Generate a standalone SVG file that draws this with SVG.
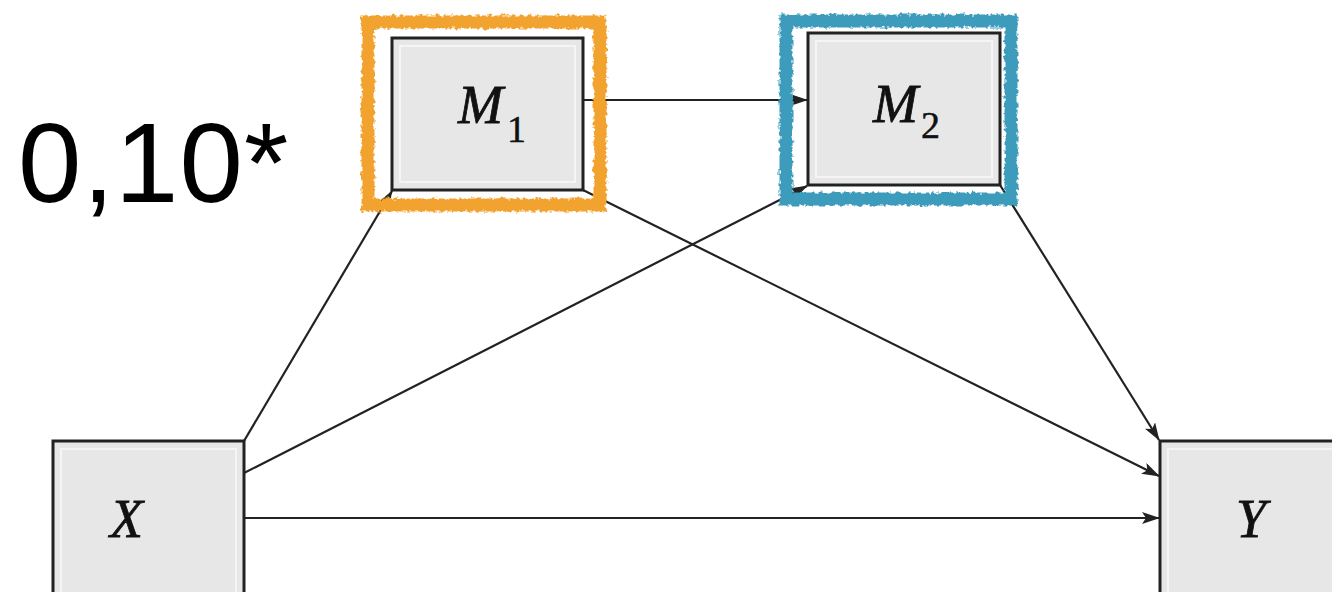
<svg xmlns="http://www.w3.org/2000/svg" width="1332" height="592" viewBox="0 0 1332 592">
<style>
.box{fill:#e7e7e7;stroke:#222;stroke-width:3}
.inner{fill:none;stroke:#f5f5f5;stroke-width:2}
.lbl{font-family:"Liberation Serif","DejaVu Serif",serif;font-style:italic;font-size:54px;fill:#111;stroke:#111;stroke-width:0.8}
.sub{font-family:"Liberation Serif","DejaVu Serif",serif;font-size:38px;fill:#111;stroke:#111;stroke-width:0.5}
.edge{stroke:#222;stroke-width:2.2;fill:none;marker-end:url(#arr)}
.hl{fill:none;stroke-width:13;filter:url(#rough)}
</style>
<defs>
<marker id="arr" viewBox="0 0 18 12" refX="17" refY="6" markerWidth="18" markerHeight="12" markerUnits="userSpaceOnUse" orient="auto">
<path d="M0,0 L18,6 L0,12 L4,6 Z" fill="#222"/>
</marker>
<filter id="rough" x="-5%" y="-5%" width="110%" height="110%">
<feTurbulence type="fractalNoise" baseFrequency="0.25" numOctaves="2" seed="3" result="n"/>
<feDisplacementMap in="SourceGraphic" in2="n" scale="6" xChannelSelector="R" yChannelSelector="G"/>
</filter>
</defs>
<rect width="1332" height="592" fill="#ffffff"/>
<g id="connectors">
<line class="edge" x1="583" y1="100" x2="807" y2="100"/>
<line class="edge" x1="244" y1="441" x2="392" y2="191"/>
<line class="edge" x1="244" y1="473" x2="807" y2="186"/>
<line class="edge" x1="244" y1="518" x2="1159" y2="518"/>
<line class="edge" x1="583" y1="190" x2="1159" y2="476"/>
<line class="edge" x1="1000" y1="185" x2="1159" y2="440"/>
</g>
<g id="node-M1">
<rect class="box" x="392" y="38" width="191" height="152"/>
<rect class="inner" x="400" y="46" width="175" height="136"/>
<text class="lbl" x="458" y="123">M</text><text class="sub" x="507" y="142">1</text>
</g>
<g id="node-M2">
<rect class="box" x="808" y="33" width="192" height="152"/>
<rect class="inner" x="816" y="41" width="176" height="136"/>
<text class="lbl" x="873" y="122">M</text><text class="sub" x="921" y="138">2</text>
</g>
<g id="node-X">
<rect class="box" x="53" y="441" width="191" height="160"/>
<rect class="inner" x="61" y="449" width="175" height="150"/>
<text class="lbl" x="110" y="537">X</text>
</g>
<g id="node-Y">
<rect class="box" x="1160" y="441" width="190" height="160"/>
<rect class="inner" x="1168" y="449" width="175" height="150"/>
<text class="lbl" x="1236" y="537">Y</text>
</g>
<g id="highlights">
<rect class="hl" x="368" y="22" width="232" height="183" stroke="#F2A22E"/>
<rect class="hl" x="786" y="21" width="225" height="178" stroke="#3D9CBC"/>
<line x1="0" y1="238" x2="255" y2="238" stroke="#3D9CBC" stroke-width="7" filter="url(#rough)"/>
</g>
<g id="value">
<text x="18" y="202" font-family="Liberation Sans, Arial, sans-serif" font-size="114" letter-spacing="1" fill="#000">0,10*</text>
</g>
</svg>
